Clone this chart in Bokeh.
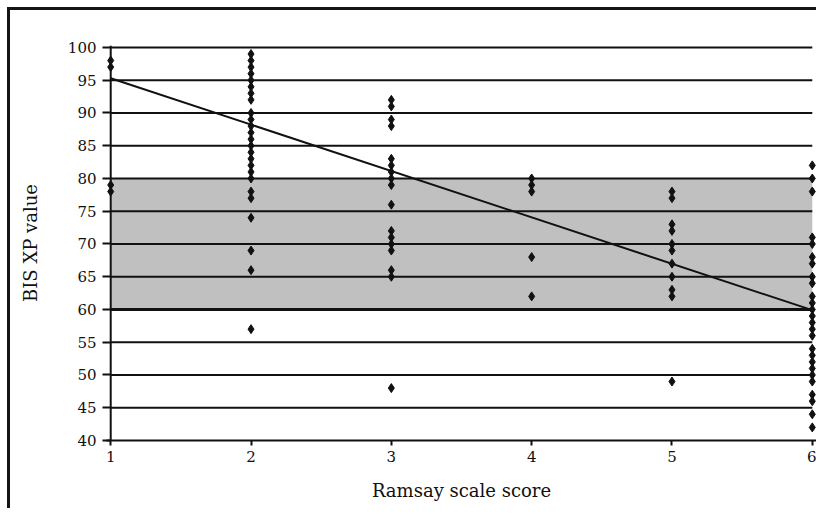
from bokeh.plotting import figure
from bokeh.layouts import column
from bokeh.models import ColumnDataSource, BoxAnnotation, Span, FixedTicker
from bokeh.embed import file_html
from bokeh.resources import INLINE

# ---- data ----
ramsay_scores = [1, 2, 3, 4, 5, 6]
bis_r1 = [98, 97, 79, 78]
bis_r2 = [99, 98, 97, 96, 95, 94, 93, 92, 90, 89, 88, 87, 86, 85, 84, 83,
          82, 81, 80, 78, 77, 74, 69, 66, 57]
bis_r3 = [92, 91, 89, 88, 83, 82, 81, 80, 79, 76, 72, 71, 70, 69, 66, 65, 48]
bis_r4 = [80, 79, 78, 68, 62]
bis_r5 = [78, 77, 73, 72, 70, 69, 67, 65, 63, 62, 49]
bis_r6 = [82, 80, 78, 71, 70, 68, 67, 65, 64, 62, 61, 60, 59, 58, 57, 56,
          54, 53, 52, 51, 50, 49, 47, 46, 44, 42]
y_ticks = [40, 45, 50, 55, 60, 65, 70, 75, 80, 85, 90, 95, 100]
x_ticks = [1, 2, 3, 4, 5, 6]
target_low = 60
target_high = 80
trend_x = [1, 6]
trend_y = [95.3, 59.9]

groups = [bis_r1, bis_r2, bis_r3, bis_r4, bis_r5, bis_r6]
xs, ys = [], []
for s, vals in zip(ramsay_scores, groups):
    xs.extend([s] * len(vals))
    ys.extend(vals)
src = ColumnDataSource(dict(x=xs, y=ys))

INK = "#111111"
FONT = "DejaVu Serif"

p = figure(width=809, height=501, x_range=(0.97, 6.03), y_range=(40, 100.3),
           output_backend="svg", toolbar_location=None,
           min_border_left=96, min_border_right=3, min_border_top=35,
           min_border_bottom=71)
p.styles = {"border-top": "3px solid #141414", "border-left": "3px solid #141414"}
p.outline_line_color = None
p.xgrid.visible = False
p.ygrid.visible = False

# target band
p.add_layout(BoxAnnotation(left=x_ticks[0], right=x_ticks[-1], bottom=target_low,
                           top=target_high, fill_color="#c0c0c0", fill_alpha=1,
                           line_color=None, level="underlay"))

# horizontal grid lines from x=1 to x=6
gy = y_ticks[1:]
p.segment(x0=[x_ticks[0]] * len(gy), x1=[x_ticks[-1]] * len(gy), y0=gy, y1=gy,
          line_color=INK, line_width=2)
p.segment(x0=[x_ticks[0]], x1=[x_ticks[-1]], y0=[target_low], y1=[target_low],
          line_color=INK, line_width=3)

# vertical axis line at x=1
p.add_layout(Span(location=x_ticks[0], dimension="height", line_color=INK, line_width=2))

p.line(trend_x, trend_y, line_color=INK, line_width=2)
p.scatter("x", "y", source=src, marker="diamond", size=9, color=INK)

p.yaxis.ticker = FixedTicker(ticks=y_ticks)
p.xaxis.ticker = FixedTicker(ticks=x_ticks)
p.yaxis.axis_line_color = None
p.xaxis.axis_line_color = INK
p.xaxis.axis_line_width = 2
p.yaxis.major_tick_in = 4
p.yaxis.major_tick_out = 4
p.xaxis.major_tick_in = 0
p.xaxis.major_tick_out = 5
for ax in (p.xaxis, p.yaxis):
    ax.minor_tick_line_color = None
    ax.major_tick_line_color = INK
    ax.major_tick_line_width = 2
    ax.major_label_text_font = FONT
    ax.major_label_text_font_size = "15px"
    ax.major_label_text_color = INK
    ax.axis_label_text_font = FONT
    ax.axis_label_text_font_size = "18px"
    ax.axis_label_text_font_style = "normal"
    ax.axis_label_text_color = INK
p.yaxis.major_label_standoff = 6
p.xaxis.major_label_standoff = 5
p.xaxis.axis_label = "Ramsay scale score"
p.yaxis.axis_label = "BIS XP value"
p.xaxis.axis_label_standoff = 15
p.yaxis.axis_label_standoff = 24

root = column(p, styles={"padding-top": "7px", "padding-left": "7px"})

open("out.html", "w").write(file_html(root, INLINE))
